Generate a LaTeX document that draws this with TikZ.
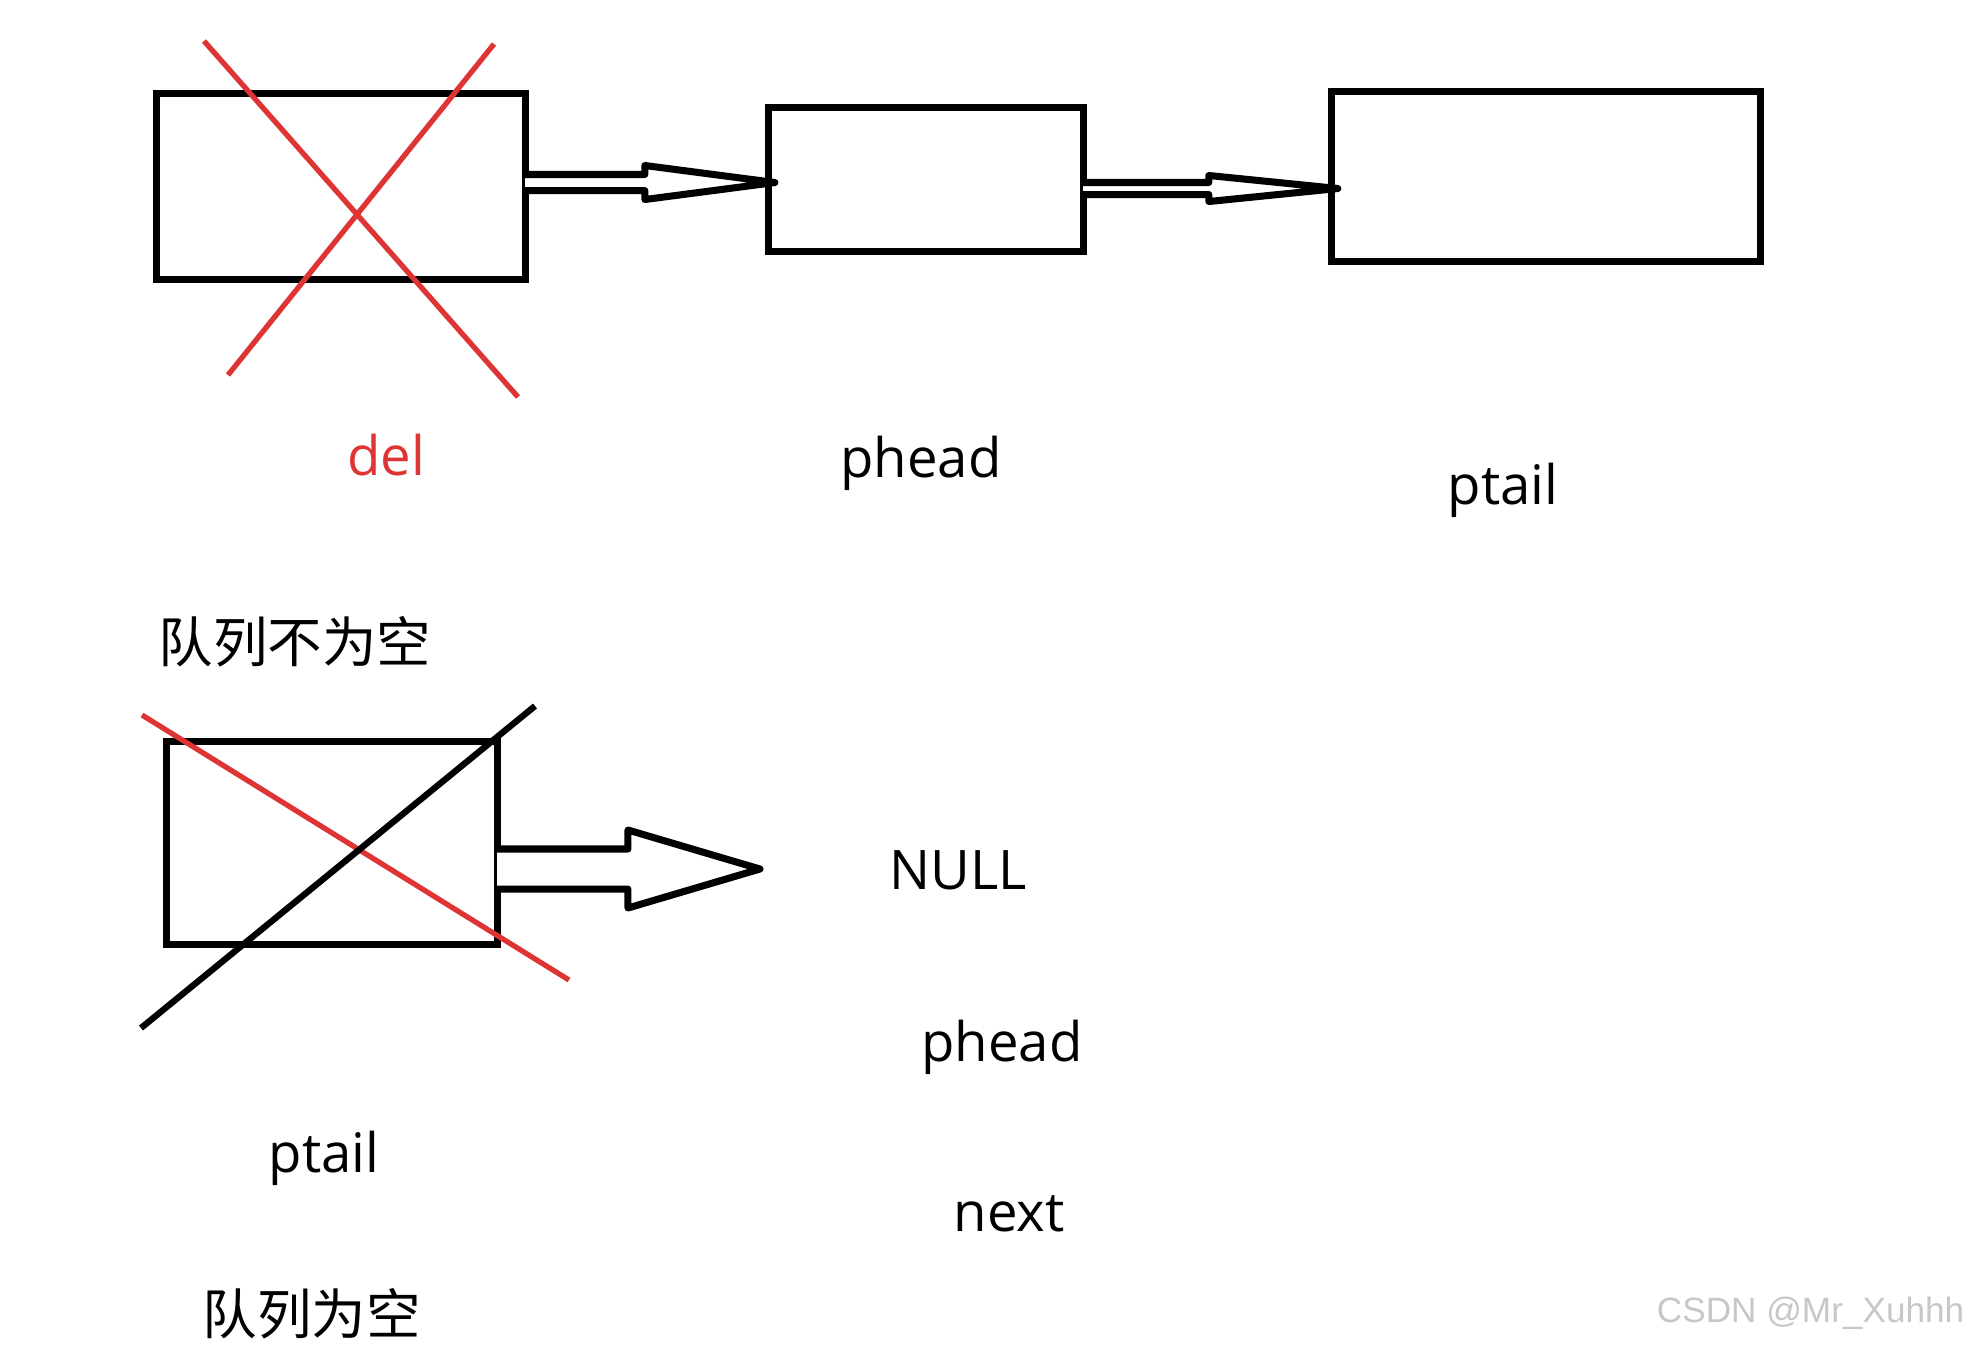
\documentclass[tikz,border=0pt]{standalone}
\usepackage{fontspec}
\setmainfont{Open Sans}
\newfontfamily\cjk{Noto Sans CJK SC}
\newfontfamily\wmfont{Liberation Sans}
\usepackage{tikz}
\usetikzlibrary{
        calc,
        positioning
    }
\definecolor{crossred}{RGB}{222,52,52}
\tikzset{box/.style={draw,line width=2pt,inner sep=0pt,outer sep=0pt}}
\tikzset{lbl/.style={font=\fontsize{15.5}{18}\selectfont,inner sep=0pt}}
\tikzset{arrowbody/.style={draw,fill=white,line width=2pt,line join=round}}
\tikzset{cross/.style={crossred,line width=1.5pt}}
\newcommand{\hollowarrow}[5]{%
    \draw[arrowbody] let \p1=(#1), \p2=(#2) in
        (\x1,\y2+#3) -- (\x2-#5,\y2+#3) -- (\x2-#5,\y2+#4) -- (\x2,\y2)
        -- (\x2-#5,\y2-#4) -- (\x2-#5,\y2-#3) -- (\x1,\y2-#3);}

\begin{document}
\begin{tikzpicture}[x=0.01cm,y=-0.01cm]
    \useasboundingbox (0,0) rectangle (1971,1347);
        \node[box,minimum width=3.68cm,minimum height=1.85cm] (del)   at (341,186.5) {};
        \node[box,minimum width=3.14cm,minimum height=1.43cm] (phead) at (926,179.5) {};
        \node[box,minimum width=4.28cm,minimum height=1.69cm] (ptail) at (1546,176.5) {};
        \node[box,minimum width=3.30cm,minimum height=2.02cm] (last)  at (332,843) {};
        \coordinate (nulltip) at (760,869);

        \hollowarrow{del.east}{$(phead.west)+(6,3)$}{0.08cm}{0.17cm}{1.3cm}
        \hollowarrow{phead.east}{$(ptail.west)+(6,12)$}{0.06cm}{0.13cm}{1.29cm}
        \hollowarrow{last.east}{nulltip}{0.2cm}{0.39cm}{1.32cm}

        \draw[cross] (204,41) -- (518,397);
        \draw[cross] (494,44) -- (228,375);
        \draw[cross] (142,715) -- (569,980);
        \draw[line width=1.8pt] (535,706) -- (141,1028);

        \node[lbl,text=crossred] (dellbl)   at (386,455)  {del};
        \node[lbl]               (pheadlbl) at (921,463)  {phead};
        \node[lbl]               (ptaillbl) at (1503,490) {ptail};
        \node[lbl,font=\cjk\fontsize{15.5}{18}\selectfont] (notempty) at (295,642) {队列不为空};

        \node[lbl] (nulllbl)  at (958,870)  {NULL};
        \node[lbl] (phead2)   at (1002,1047) {phead};
        \node[lbl] (nextlbl)  at (1009,1214) {next};
        \node[lbl] (ptail2)   at (324,1158) {ptail};
        \node[lbl,font=\cjk\fontsize{15.5}{18}\selectfont] (empty) at (312,1314) {队列为空};

        \node[anchor=east,inner sep=0pt,text=black!22,font=\wmfont\fontsize{10}{12}\selectfont] (mark) at (1965,1313) {CSDN @Mr\_Xuhhh};
\end{tikzpicture}
\end{document}
